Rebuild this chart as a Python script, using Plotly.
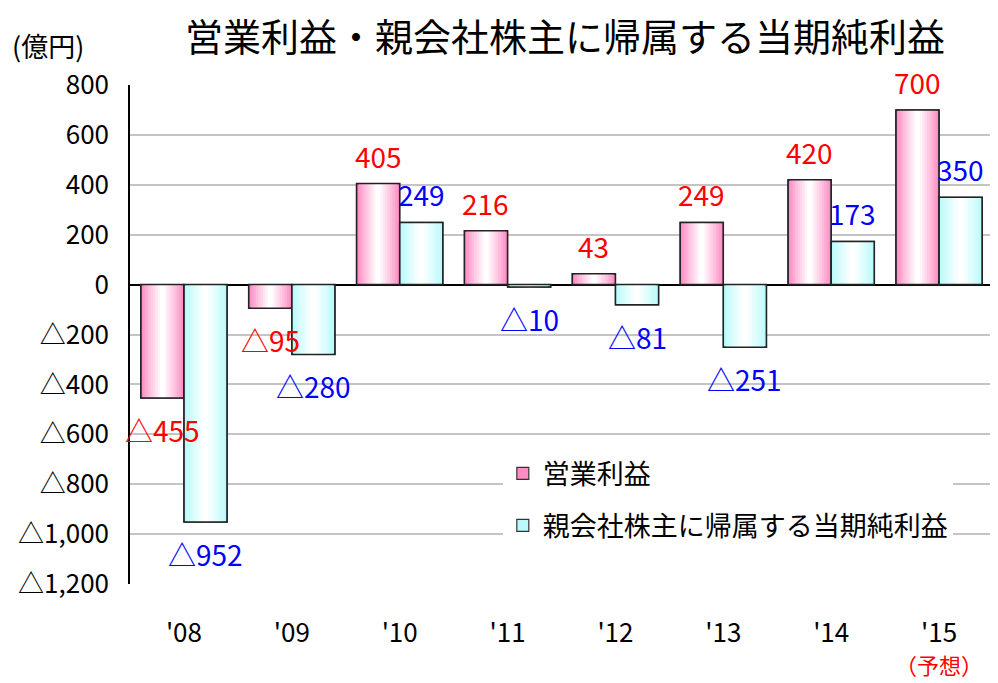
import plotly.graph_objects as go

# ---- data ----
years = ["'08", "'09", "'10", "'11", "'12", "'13", "'14", "'15"]
op_profit = [-455, -95, 405, 216, 43, 249, 420, 700]          # 営業利益
net_income = [-952, -280, 249, -10, -81, -251, 173, 350]      # 親会社株主に帰属する当期純利益
series_names = ["営業利益", "親会社株主に帰属する当期純利益"]
y_ticks = [800, 600, 400, 200, 0, -200, -400, -600, -800, -1000, -1200]
title_text = "営業利益・親会社株主に帰属する当期純利益"
unit_text = "(億円)"
forecast_text = "（予想）"

FONT = "Noto Sans CJK JP"
# the page body adds an 8px margin; the figure is sized/placed to compensate
PAGE_OFF = 8
W, H = 998 - PAGE_OFF, 683 - PAGE_OFF


def fmt(v):
    return f"△{abs(v):,}" if v < 0 else f"{v:,}"


def mix(c1, c2, t):
    return "rgb(%d,%d,%d)" % tuple(round(a + (b - a) * t) for a, b in zip(c1, c2))


fig = go.Figure()

idx = list(range(len(years)))
BW = 0.4
specs = [
    (op_profit, -BW / 2, (255, 140, 195), "#FF0000", "a"),
    (net_income, BW / 2, (185, 250, 250), "#0000FF", "b"),
]
N = 9
for (vals, off, edge, lab_col, grp), name in zip(specs, series_names):
    xs = [i + off for i in idx]
    for k in range(N):
        frac = 1 - k / N
        t = (k / (N - 1)) ** 0.9
        fig.add_trace(go.Bar(
            x=xs, y=vals, width=BW * frac,
            marker=dict(color=mix(edge, (255, 255, 255), t),
                        line=dict(color="#333333", width=1.2 if k == 0 else 0)),
            name=name, legendgroup=grp, showlegend=(k == 0), hoverinfo="skip",
        ))
    # outline on top
    fig.add_trace(go.Bar(
        x=xs, y=vals, width=BW,
        marker=dict(color="rgba(0,0,0,0)", line=dict(color="#222222", width=1.5)),
        legendgroup=grp, showlegend=False, hoverinfo="skip",
    ))
    for x, v in zip(xs, vals):
        fig.add_annotation(x=x, y=v, text=fmt(v), showarrow=False,
                           yshift=28 if v >= 0 else -32, yanchor="middle",
                           font=dict(family=FONT, size=28, color=lab_col))

fig.add_annotation(x=7, y=(584 - 682) / 499, xref="x", yref="paper", text=forecast_text,
                   showarrow=False, yanchor="bottom",
                   font=dict(family=FONT, size=22, color="#FF0000"))
fig.add_annotation(x=-0.139, y=1.08, xref="paper", yref="paper", text=unit_text,
                   showarrow=False, xanchor="left", yanchor="middle",
                   font=dict(family=FONT, size=27, color="#000000"))
# title as a paper annotation (centered over the chart)
fig.add_annotation(x=(565 - 130) / 863, y=(584 - 34) / 499, xref="paper", yref="paper",
                   text=title_text, showarrow=False, xanchor="center", yanchor="middle",
                   font=dict(family=FONT, size=38, color="#000000"))

fig.update_layout(
    width=W, height=H,
    margin=dict(l=130 - PAGE_OFF, r=5, t=85 - PAGE_OFF, b=683 - 584),
    paper_bgcolor="white", plot_bgcolor="white",
    barmode="overlay",
    font=dict(family=FONT, color="#000000"),
    legend=dict(x=0.432, y=0.27, xanchor="left", yanchor="top",
                bgcolor="white", font=dict(family=FONT, size=27),
                traceorder="grouped", tracegroupgap=14),
    xaxis=dict(range=[-0.5, 7.5], tickvals=idx, ticktext=years, showgrid=False,
               zeroline=False, showline=False, ticks="", ticklabelstandoff=31,
               tickfont=dict(family=FONT, size=26)),
    yaxis=dict(range=[-1200, 800], tickvals=y_ticks, ticktext=[fmt(v) for v in y_ticks],
               showgrid=True, gridcolor="#C4C4C4", gridwidth=1.5,
               zeroline=True, zerolinecolor="#000000", zerolinewidth=2,
               showline=True, linecolor="#000000", linewidth=1.5, ticks="",
               ticklabelstandoff=14, tickfont=dict(family=FONT, size=26)),
)

fig.write_html("out.html")
